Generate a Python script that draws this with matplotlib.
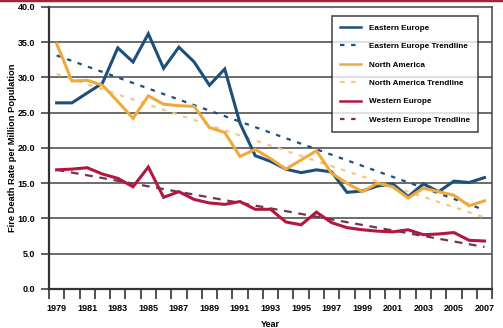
import numpy as np
import matplotlib
matplotlib.use("Agg")
from matplotlib import pyplot as plt
from matplotlib.lines import Line2D

years = np.arange(1979, 2008)

eastern_europe = [26.4, 26.4, 27.8, 29.2, 34.2, 32.2, 36.2, 31.3, 34.3, 32.2,
                  28.9, 31.2, 23.5, 18.9, 18.1, 17.0, 16.5, 16.9, 16.6, 13.7,
                  13.9, 14.6, 14.9, 13.1, 14.9, 13.8, 15.3, 15.1, 15.8]
north_america = [34.8, 29.5, 29.6, 28.9, 26.6, 24.2, 27.4, 26.2, 26.0, 25.9,
                 22.9, 22.2, 18.8, 19.8, 18.5, 17.0, 18.3, 19.6, 16.4, 15.0,
                 13.8, 15.0, 14.5, 12.9, 14.3, 13.8, 13.3, 11.8, 12.5]
western_europe = [16.9, 17.0, 17.2, 16.3, 15.7, 14.5, 17.3, 13.0, 13.8, 12.7,
                  12.2, 12.0, 12.4, 11.3, 11.3, 9.5, 9.1, 10.9, 9.4, 8.7,
                  8.4, 8.2, 8.1, 8.4, 7.7, 7.8, 8.0, 6.9, 6.8]

series = [
    ("Eastern Europe", eastern_europe, "#1d4f7c", "#1d4f7c", (0, (2, 3))),
    ("North America", north_america, "#f0aa3c", "#f3c98a", (0, (2, 3))),
    ("Western Europe", western_europe, "#b3173f", "#6e3552", (0, (3.5, 3))),
]

font = "Liberation Sans"
plt.rcParams["font.family"] = [font, "DejaVu Sans"]
plt.rcParams["font.weight"] = "bold"

fig = plt.figure(figsize=(5.03, 3.28), dpi=100)
ax = fig.add_axes([0.0974, 0.119, 0.881, 0.8597])

# maroon rule along the top edge
fig.add_artist(Line2D([0, 1], [0.999, 0.999], color="#a0243c", lw=2.5,
                      transform=fig.transFigure))

for y in range(5, 40, 5):
    ax.axhline(y, color="#444444", lw=1.1, zorder=1)

handles = []
for name, vals, col, tcol, dash in series:
    vals = np.array(vals)
    ax.plot(years, vals, color=col, lw=2.2, zorder=3, solid_joinstyle="miter")
    k, b = np.polyfit(years, vals, 1)
    ax.plot(years, k * years + b, color=tcol, lw=1.6, ls=dash, zorder=2)
    handles.append(Line2D([], [], color=col, lw=1.8))
    handles.append(Line2D([], [], color=tcol, lw=1.6, ls=(0, (2, 3))))

labels = ["Eastern Europe", "Eastern Europe Trendline",
          "North America", "North America Trendline",
          "Western Europe", "Western Europe Trendline"]
leg = ax.legend(handles, labels, loc="upper right", bbox_to_anchor=(0.968, 0.968),
                frameon=True, fancybox=False, edgecolor="#222222",
                prop={"family": font, "weight": "bold", "size": 5.9},
                handlelength=2.6, labelspacing=1.3, borderpad=1.0,
                handletextpad=0.9, borderaxespad=0)
leg.get_frame().set_linewidth(1.2)
leg.set_zorder(5)

ax.set_xlim(1978.5, 2007.5)
ax.set_ylim(0, 40)
ax.set_yticks(np.arange(0, 41, 5))
ax.set_yticklabels(["%.1f" % v for v in np.arange(0, 41, 5)])
ax.set_xticks(np.arange(1979, 2008, 2))
ax.set_xticks(np.arange(1978.5, 2008, 1), minor=True)
ax.tick_params(axis="x", which="major", length=0, pad=11, labelsize=6.5)
ax.tick_params(axis="x", which="minor", length=7, width=1.2, color="#333333")
ax.tick_params(axis="y", length=6, width=1.1, color="#333333", labelsize=6.5, pad=4)

for s in ["left", "bottom"]:
    ax.spines[s].set_linewidth(1.6)
    ax.spines[s].set_color("#333333")
for s in ["top", "right"]:
    ax.spines[s].set_linewidth(1.1)
    ax.spines[s].set_color("#444444")

ax.set_xlabel("Year", fontsize=6.5, fontweight="bold")
ax.set_ylabel("Fire Death Rate per Million Population", fontsize=6.7,
              fontweight="bold")
ax.xaxis.set_label_coords(0.5, -0.11)
ax.yaxis.set_label_coords(-0.072, 0.5)

fig.savefig("out.png", dpi=100)
